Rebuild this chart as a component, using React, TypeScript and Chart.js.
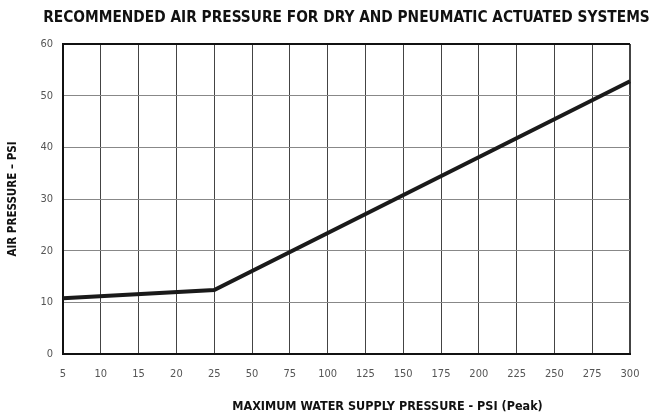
import React, { useEffect, useRef } from "react";
import { Chart, registerables } from "chart.js";

Chart.register(...registerables);

const categories = ["5", "10", "15", "20", "25", "50", "75", "100", "125", "150", "175", "200", "225", "250", "275", "300"];
// Air pressure read at the break points of the curve; the line is straight between them.
const airPressure: (number | null)[] = [10.8, null, null, null, 12.4, null, null, null, null, null, null, null, null, null, null, 52.8];
const yMin = 0;
const yMax = 60;
const yStep = 10;

const TITLE = "RECOMMENDED AIR PRESSURE FOR DRY AND PNEUMATIC ACTUATED SYSTEMS";
const X_TITLE = "MAXIMUM WATER SUPPLY PRESSURE - PSI (Peak)";
const Y_TITLE = "AIR PRESSURE \u2013 PSI";

const FONT = "'Liberation Sans Narrow', 'DejaVu Sans Condensed', 'Liberation Sans', Arial, sans-serif";

export default function App() {
  const ref = useRef<HTMLCanvasElement | null>(null);
  useEffect(() => {
    document.body.style.margin = "0";
    const textPlugin = {
      id: "extraTitles",
      afterDraw(chart: any) {
        const { ctx, chartArea } = chart;
        const cx = (chartArea.left + chartArea.right) / 2;
        ctx.save();
        ctx.fillStyle = "#111";
        ctx.textAlign = "center";
        ctx.textBaseline = "middle";
        ctx.font = `bold 15.3px ${FONT}`;
        ctx.fillText(TITLE, cx, 18);
        ctx.font = `bold 12.5px ${FONT}`;
        ctx.fillText(X_TITLE, cx + 41, 407);
        ctx.restore();
      },
    };
    const chart = new Chart(ref.current!, {
      type: "line",
      data: {
        labels: categories,
        datasets: [
          {
            data: airPressure,
            borderColor: "#1a1a1a",
            borderWidth: 4,
            pointRadius: 0,
            spanGaps: true,
            tension: 0,
          },
        ],
      },
      plugins: [textPlugin],
      options: {
        animation: false,
        responsive: false,
        layout: { padding: { left: 0, right: 25, top: 44, bottom: 0 } },
        plugins: {
          legend: { display: false },
          tooltip: { enabled: false },
          title: { display: false },
        },
        scales: {
          x: {
            type: "category",
            offset: false,
            grid: {
              color: "#444",
              lineWidth: (c: any) => (c.index === categories.length - 1 ? 2 : 1),
              drawTicks: false,
            },
            border: { color: "#111", width: 2 },
            ticks: {
              color: "#555",
              font: { family: FONT, size: 11 },
              padding: 14,
              maxRotation: 0,
              autoSkip: false,
            },
            afterFit: (s: any) => {
              s.height = 63;
            },
          },
          y: {
            min: yMin,
            max: yMax,
            grid: {
              color: (c: any) => (c.tick && c.tick.value === yMax ? "#111" : "#888"),
              lineWidth: (c: any) => (c.tick && c.tick.value === yMax ? 2 : 1),
              drawTicks: false,
            },
            border: { color: "#111", width: 2 },
            ticks: {
              stepSize: yStep,
              color: "#555",
              font: { family: FONT, size: 11 },
              padding: 10,
            },
            title: {
              display: true,
              text: Y_TITLE,
              color: "#111",
              font: { family: FONT, size: 11.5, weight: "bold" },
              padding: { top: 6, bottom: 0 },
            },
            afterFit: (s: any) => {
              s.width = 63;
            },
          },
        },
      },
    });
    return () => chart.destroy();
  }, []);
  return (
    <div style={{ width: 655, height: 417 }}>
      <canvas ref={ref} width={655} height={417} style={{ display: "block" }} />
    </div>
  );
}
